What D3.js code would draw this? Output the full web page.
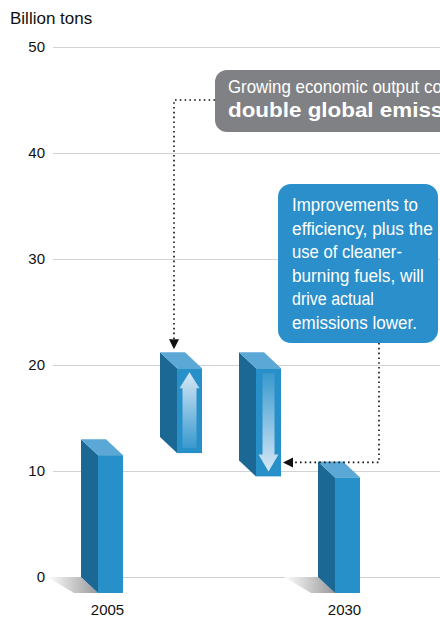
<!DOCTYPE html>
<html>
<head>
<meta charset="utf-8">
<script src="https://cdn.jsdelivr.net/npm/d3@7"></script>
<style>
  body { margin: 0; background: #fff; }
  svg { display: block; }
</style>
</head>
<body>
<div id="chart"></div>
<script>
// Data
const categories = ["2005", "growth", "efficiency", "2030"];
const barBase = [0, 13.2, 11, 0];
const barTop = [13, 21.2, 21.2, 10.9];
const xLabels = ["2005", "", "", "2030"];
const tickValues = [0, 10, 20, 30, 40, 50];
const arrowDir = ["none", "up", "down", "none"];

const width = 440, height = 620;
const dx = 17, dy = 16, barW = 25;
const sans = "'Liberation Sans', Arial, sans-serif";

const svg = d3.select("#chart")
  .append("svg")
  .attr("width", width)
  .attr("height", height)
  .style("font-family", sans);

const y = d3.scaleLinear().domain([0, 50]).range([577, 47]);
const x = d3.scalePoint().domain(categories).range([110.5, 347.5]);

const defs = svg.append("defs");
const shadowGrad = defs.append("linearGradient").attr("id", "shadow");
shadowGrad.append("stop").attr("offset", "0%").attr("stop-color", "#fff");
shadowGrad.append("stop").attr("offset", "100%").attr("stop-color", "#98989a");

const upGrad = defs.append("linearGradient").attr("id", "upArrow")
  .attr("x1", 0).attr("y1", 0).attr("x2", 0).attr("y2", 1);
upGrad.append("stop").attr("offset", "0%").attr("stop-color", "#d6e8f6");
upGrad.append("stop").attr("offset", "100%").attr("stop-color", "#d6e8f6").attr("stop-opacity", 0.1);
const downGrad = defs.append("linearGradient").attr("id", "downArrow")
  .attr("x1", 0).attr("y1", 0).attr("x2", 0).attr("y2", 1);
downGrad.append("stop").attr("offset", "0%").attr("stop-color", "#d6e8f6").attr("stop-opacity", 0.1);
downGrad.append("stop").attr("offset", "100%").attr("stop-color", "#d6e8f6");

// Gridlines + tick labels
const axis = svg.append("g").attr("transform", "translate(53,0)")
  .call(d3.axisLeft(y).tickValues(tickValues).tickSize(-(width - 53)).tickPadding(8));
axis.select(".domain").remove();
axis.selectAll(".tick line").attr("stroke", "#d2d2d2").attr("stroke-width", 1.2);
axis.selectAll(".tick text").attr("font-size", 15).attr("fill", "#111")
  .attr("font-family", sans);

svg.append("text").attr("x", 10).attr("y", 24)
  .attr("font-size", 17).attr("fill", "#111").text("Billion tons");

// Bars
const bars = categories.map((c, i) => {
  const cx = x(c);
  return {
    c, i,
    fx0: cx - barW / 2, fx1: cx + barW / 2,
    fTop: y(barTop[i]) + dy, fBot: y(barBase[i]) + dy,
    dir: arrowDir[i]
  };
});

// ground shadows
svg.append("g").selectAll("path")
  .data(bars.filter(b => barBase[b.i] === 0))
  .join("path")
  .attr("fill", "url(#shadow)")
  .attr("d", b => `M${b.fx0 - dx - 34},${y(0)} L${b.fx0 - dx},${y(0)} L${b.fx0},${y(0) + dy} L${b.fx0 - 24},${y(0) + dy} Z`);

const g = svg.append("g").selectAll("g").data(bars).join("g");
g.append("path").attr("fill", "#1b6894")
  .attr("d", b => `M${b.fx0 - dx},${b.fTop - dy} L${b.fx0},${b.fTop} L${b.fx0},${b.fBot} L${b.fx0 - dx},${b.fBot - dy} Z`);
g.append("path").attr("fill", "#5ba8d7")
  .attr("d", b => `M${b.fx0 - dx},${b.fTop - dy} L${b.fx1 - dx},${b.fTop - dy} L${b.fx1},${b.fTop} L${b.fx0},${b.fTop} Z`);
g.append("rect").attr("fill", "#2890c9")
  .attr("x", b => b.fx0).attr("y", b => b.fTop)
  .attr("width", barW).attr("height", b => b.fBot - b.fTop);

// arrows inside floating bars
g.filter(b => b.dir === "up").append("path")
  .attr("fill", "url(#upArrow)")
  .attr("d", b => {
    const c = (b.fx0 + b.fx1) / 2, t = b.fTop + 4, bt = b.fBot - 5, hb = t + 16;
    return `M${c},${t} L${c + 10},${hb} L${c + 7},${hb} L${c + 7},${bt} L${c - 7},${bt} L${c - 7},${hb} L${c - 10},${hb} Z`;
  });
g.filter(b => b.dir === "down").append("path")
  .attr("fill", "url(#downArrow)")
  .attr("d", b => {
    const c = (b.fx0 + b.fx1) / 2, t = b.fTop + 5, tip = b.fBot - 5, hb = tip - 17;
    return `M${c - 6},${t} L${c + 6},${t} L${c + 6},${hb} L${c + 10},${hb} L${c},${tip} L${c - 10},${hb} L${c - 6},${hb} Z`;
  });

// x labels
svg.append("g").selectAll("text")
  .data(bars.filter(b => xLabels[b.i] !== ""))
  .join("text")
  .attr("x", b => x(b.c) - 3).attr("y", 615)
  .attr("text-anchor", "middle").attr("font-size", 15).attr("fill", "#111")
  .text(b => xLabels[b.i]);

// Callouts
function dotted(sel) {
  return sel.attr("stroke", "#111").attr("stroke-width", 1.6)
    .attr("stroke-dasharray", "1.6,3.2").attr("fill", "none");
}
// narrow text: squeeze a line horizontally so that it spans the given width
function narrowText(parent, str, x0, y0, size, targetW, bold) {
  const gg = parent.append("g");
  const t = gg.append("text").attr("x", 0).attr("y", 0)
    .attr("font-size", size).attr("fill", "#fff")
    .attr("font-weight", bold ? "bold" : "normal").text(str);
  const s = targetW / t.node().getComputedTextLength();
  gg.attr("transform", `translate(${x0},${y0}) scale(${s},1)`);
  return gg;
}

// grey callout and its connector down to the growth bar
const b2 = bars[1];
const ax = b2.fx0 - 3, tipY = y(barTop[1]) - 3;
dotted(svg.append("path")).attr("d", `M215,100 L${ax},100 L${ax},${tipY - 9}`);
svg.append("path").attr("fill", "#111")
  .attr("d", `M${ax - 5},${tipY - 10} L${ax + 5},${tipY - 10} L${ax},${tipY} Z`);

svg.append("rect").attr("x", 215).attr("y", 70).attr("width", 260).attr("height", 62)
  .attr("rx", 12).attr("fill", "#808184");
narrowText(svg, "Growing economic output could", 228, 93, 18, 212 * 29 / 26, false);
narrowText(svg, "double global emissions.", 228, 117, 21, 212 * 24 / 19, true);

// blue callout and its connector to the efficiency bar
const b3 = bars[2];
const ay = y(barBase[2]) + 2;
dotted(svg.append("path")).attr("d", `M379,343 L379,${ay} L${b3.fx1 + 12},${ay}`);
svg.append("path").attr("fill", "#111")
  .attr("d", `M${b3.fx1 + 12},${ay - 5} L${b3.fx1 + 12},${ay + 5} L${b3.fx1 + 2},${ay} Z`);

svg.append("rect").attr("x", 278).attr("y", 184).attr("width", 160).attr("height", 159)
  .attr("rx", 13).attr("fill", "#2a8fca");
const blueLines = ["Improvements to", "efficiency, plus the", "use of cleaner-",
  "burning fuels, will", "drive actual", "emissions lower."];
const blueWidths = [126, 141, 110, 132, 82, 125];
blueLines.forEach((line, i) => narrowText(svg, line, 292, 211 + i * 23.5, 19, blueWidths[i], false));
</script>
</body>
</html>
